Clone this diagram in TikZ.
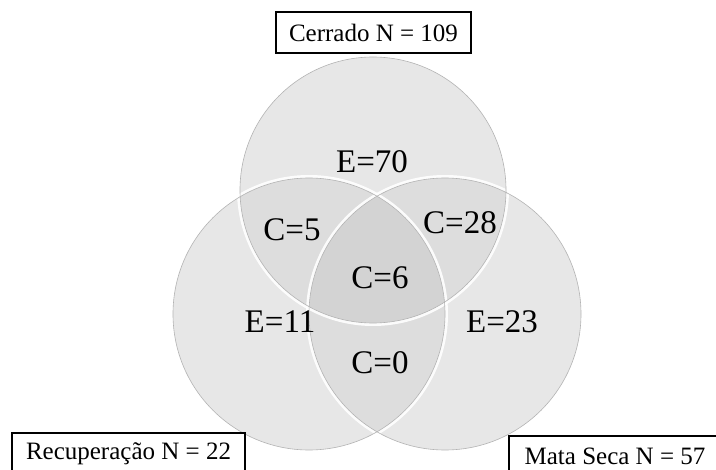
\documentclass[tikz,border=0pt]{standalone}
\usepackage{fontspec}
\setmainfont{Liberation Serif}
\begin{document}
\begin{tikzpicture}[x=1pt,y=-1pt,
  basefill/.style={fill=black!5, draw=none},
  setcircle/.style={fill=black, fill opacity=0.045, draw=none},
  rim/.style={draw=white, line width=3pt, opacity=0.9},
  rimline/.style={draw=black!30, line width=0.6pt},
  lab/.style={font=\fontsize{33}{36}\selectfont, inner sep=0pt},
  titlebox/.style={draw=black, line width=1.5pt, fill=white, minimum height=41pt, inner sep=0pt, font=\fontsize{25}{28}\selectfont}
]
\useasboundingbox (0,0) rectangle (716,470);
\clip (0,0) rectangle (716,470);
% circles
\coordinate (ct) at (373,190);
\coordinate (cl) at (309,314);
\coordinate (cr) at (445,314);
\fill[basefill] (ct) circle (133);
\fill[basefill] (cl) circle (136);
\fill[basefill] (cr) circle (136);
\fill[setcircle] (ct) circle (133);
\fill[setcircle] (cl) circle (136);
\fill[setcircle] (cr) circle (136);
\draw[rim] (ct) circle (134.5);
\draw[rim] (cl) circle (137.5);
\draw[rim] (cr) circle (137.5);
\draw[rimline] (ct) circle (133);
\draw[rimline] (cl) circle (136);
\draw[rimline] (cr) circle (136);
% labels
\node[lab] (e70) at (372,162) {E=70};
\node[lab] (c5) at (292,230) {C=5};
\node[lab] (c28) at (460,223) {C=28};
\node[lab] (c6) at (380,278) {C=6};
\node[lab] (e11) at (280,322) {E=11};
\node[lab] (e23) at (502,322) {E=23};
\node[lab] (c0) at (380,363) {C=0};
% titles
\node[titlebox, minimum width=195pt] (cer) at (373.5,32.5) {Cerrado N = 109};
\node[titlebox, minimum width=233pt] (rec) at (128.5,453.5) {Recuperação N = 22};
\node[titlebox, minimum width=212pt] (mat) at (615,456.5) {Mata Seca N = 57};
\end{tikzpicture}
\end{document}
